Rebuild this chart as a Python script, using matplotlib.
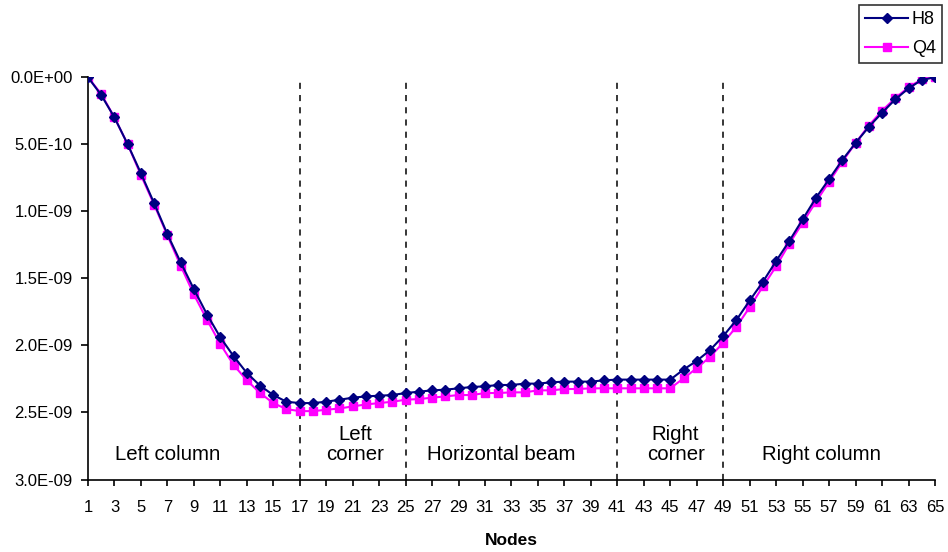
import matplotlib
matplotlib.use("Agg")
import matplotlib.pyplot as plt
from matplotlib.ticker import FuncFormatter, FixedLocator
from matplotlib.lines import Line2D

plt.rcParams['font.family'] = ['Liberation Sans', 'DejaVu Sans']

nodes = list(range(1, 66))
h8 = [0, 0.133, 0.30, 0.50, 0.716, 0.94, 1.17, 1.38, 1.58, 1.77, 1.94, 2.08, 2.205, 2.30, 2.37, 2.42,
      2.43, 2.43, 2.42, 2.405, 2.39, 2.38, 2.375, 2.37, 2.355, 2.345, 2.335, 2.33, 2.32, 2.31, 2.305,
      2.295, 2.295, 2.285, 2.285, 2.275, 2.27, 2.27, 2.27, 2.26, 2.255, 2.255, 2.255, 2.255, 2.255,
      2.18, 2.115, 2.035, 1.93, 1.81, 1.665, 1.525, 1.37, 1.22, 1.06, 0.90, 0.76, 0.617, 0.49, 0.37,
      0.265, 0.165, 0.083, 0.02, 0]
q4 = [0, 0.125, 0.30, 0.50, 0.73, 0.95, 1.18, 1.405, 1.62, 1.81, 1.99, 2.145, 2.26, 2.355, 2.43, 2.475,
      2.49, 2.49, 2.48, 2.47, 2.455, 2.44, 2.43, 2.42, 2.405, 2.40, 2.39, 2.38, 2.37, 2.37, 2.355,
      2.355, 2.35, 2.35, 2.335, 2.335, 2.325, 2.325, 2.32, 2.32, 2.32, 2.32, 2.32, 2.32, 2.32,
      2.245, 2.17, 2.085, 1.98, 1.86, 1.715, 1.56, 1.41, 1.24, 1.085, 0.93, 0.78, 0.63, 0.49, 0.36,
      0.25, 0.155, 0.075, 0.015, 0]
scale = 1e-9
h8 = [v * scale for v in h8]
q4 = [v * scale for v in q4]

boundaries = [17, 25, 41, 49]
region_labels = ["Left column", "Left\ncorner", "Horizontal beam", "Right\ncorner", "Right column"]
region_x = [7, 21.2, 32.2, 45.4, 56.4]
region_y = [2.815e-9, 2.74e-9, 2.815e-9, 2.74e-9, 2.815e-9]
yticks = [0, 0.5e-9, 1.0e-9, 1.5e-9, 2.0e-9, 2.5e-9, 3.0e-9]
xticks = list(range(1, 66, 2))

fig = plt.figure(figsize=(9.48, 5.52), dpi=100)
ax = fig.add_axes([0.0928, 0.1313, 0.8935, 0.7288])

ax.plot(nodes, h8, color='#000080', marker='D', markersize=5, linewidth=1.5, label='H8', zorder=4)
ax.plot(nodes, q4, color='#FF00FF', marker='s', markersize=5.5, linewidth=1.5, label='Q4', zorder=3)

for b in boundaries:
    ax.axvline(b, color='black', linestyle=(0, (4, 4)), linewidth=1.1, zorder=2)

for t, x, y in zip(region_labels, region_x, region_y):
    ax.text(x, y, t, ha='center', va='center', fontsize=14.7, linespacing=1.1)

ax.set_xlim(1, 65)
ax.set_ylim(3.0e-9, 0)
ax.yaxis.set_major_locator(FixedLocator(yticks))
ax.xaxis.set_major_locator(FixedLocator(xticks))
ax.yaxis.set_major_formatter(FuncFormatter(lambda v, p: f"{v:.1E}"))
ax.xaxis.set_major_formatter(FuncFormatter(lambda v, p: f"{int(round(v))}"))

for s in ['top', 'right']:
    ax.spines[s].set_visible(False)
for s in ['left', 'bottom']:
    ax.spines[s].set_linewidth(1.2)
    ax.spines[s].set_color('black')

ax.tick_params(axis='y', direction='out', length=5, width=1.2, labelsize=12, pad=6)
ax.tick_params(axis='x', direction='out', length=4, width=1.2, labelsize=12, pad=10.5)
ax.set_xlabel('Nodes', fontsize=12.5, fontweight='bold', labelpad=13)

handles = [Line2D([0], [0], color='#000080', marker='D', markersize=5, linewidth=1.5),
           Line2D([0], [0], color='#FF00FF', marker='s', markersize=5.5, linewidth=1.5)]
leg = fig.legend(handles, ['H8', 'Q4'], loc='upper right', bbox_to_anchor=(0.994, 0.991),
                 fontsize=13, frameon=True, fancybox=False, edgecolor='black',
                 handlelength=2.4, handletextpad=0.2, borderpad=0.35, labelspacing=0.65,
                 borderaxespad=0)
leg.get_frame().set_linewidth(1.2)

fig.savefig('out.png', dpi=100)
